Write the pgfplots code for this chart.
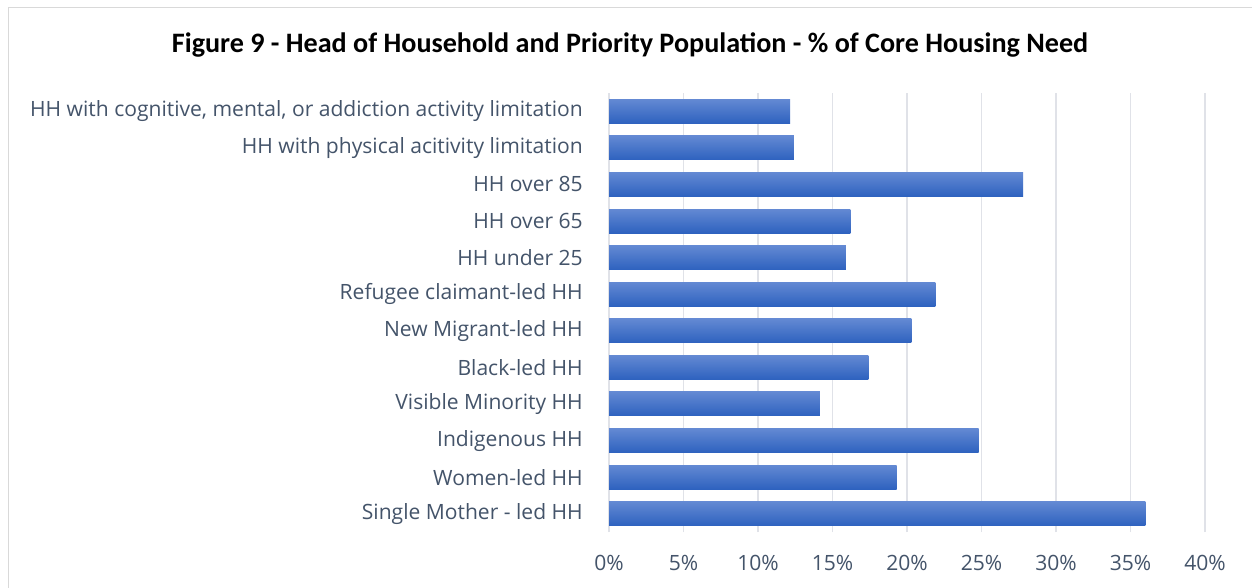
\documentclass[border=0pt]{standalone}
\usepackage{pgfplots}
\pgfplotsset{compat=1.18}
\usepackage{fontspec}
\setmainfont{Carlito}
\newfontfamily\labfont{Open Sans}
\definecolor{barTop}{HTML}{6389D3}
\definecolor{barBot}{HTML}{2E62BF}
\definecolor{labc}{HTML}{44546A}
\definecolor{gridc}{HTML}{E0E2E8}
\definecolor{framec}{HTML}{D9D9D9}
\pgfplotsset{mybar/.style={xbar, bar width=18pt, bar shift=0pt, draw=none, mark=none, top color=barTop, bottom color=barBot}}
\begin{document}
\begin{tikzpicture}
\useasboundingbox (0,0) rectangle (939pt,-441pt);
\fill[white] (0,0) rectangle (939pt,-441pt);
\draw[framec, line width=0.75pt] (6pt,-6pt) rectangle (960pt,-460pt);
\node[font=\bfseries\fontsize{21.1}{25}\selectfont, text=black] at (472.5pt,-34pt) {Figure 9 - Head of Household and Priority Population - \% of Core Housing Need};
\begin{axis}[
  at={(456.75pt,-399pt)}, anchor=south west,
  scale only axis, width=447pt, height=329.25pt,
  xmin=0, xmax=40, ymin=-0.5, ymax=11.5,
  xtick={0,5,10,15,20,25,30,35,40},
  xticklabels={0\%,5\%,10\%,15\%,20\%,25\%,30\%,35\%,40\%},
  ytick={0,...,11},
  yticklabels={Single Mother - led HH, Women-led HH, Indigenous HH, Visible Minority HH, Black-led HH, New Migrant-led HH, Refugee claimant-led HH, HH under 25, HH over 65, HH over 85, HH with physical acitivity limitation, {HH with cognitive, mental, or addiction activity limitation}},
  axis line style={draw=none},
  major tick length=0pt,
  xmajorgrids, major grid style={color=gridc, line width=0.9pt},
  tick label style={font=\labfont\fontsize{15.8}{19}\selectfont, text=labc},
  y tick label style={anchor=east, inner sep=0pt, xshift=-19.5pt},
  x tick label style={anchor=north, inner sep=0pt, yshift=-17pt},
  clip=false,
]
\addplot[mybar] coordinates {(36.0,0)};
\addplot[mybar] coordinates {(19.3,1)};
\addplot[mybar] coordinates {(24.8,2)};
\addplot[mybar] coordinates {(14.15,3)};
\addplot[mybar] coordinates {(17.4,4)};
\addplot[mybar] coordinates {(20.3,5)};
\addplot[mybar] coordinates {(21.9,6)};
\addplot[mybar] coordinates {(15.9,7)};
\addplot[mybar] coordinates {(16.2,8)};
\addplot[mybar] coordinates {(27.8,9)};
\addplot[mybar] coordinates {(12.4,10)};
\addplot[mybar] coordinates {(12.15,11)};
\end{axis}
\end{tikzpicture}
\end{document}
